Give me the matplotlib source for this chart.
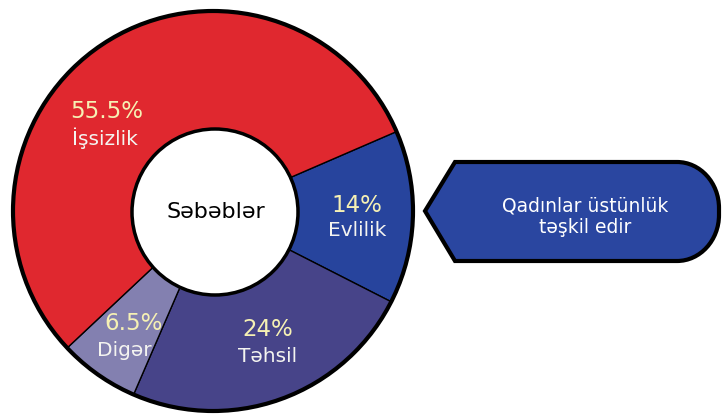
import matplotlib.pyplot as plt
from matplotlib.patches import Circle, PathPatch
from matplotlib.path import Path

# data, in clockwise order starting at the right
labels = ['Evlilik', 'Təhsil', 'Digər', 'İşsizlik']
values = [14, 24, 6.5, 55.5]
pct_text = ['14%', '24%', '6.5%', '55.5%']
colors = ['#27449d', '#474489', '#8380b0', '#e0282f']

W, H = 722, 416
fig = plt.figure(figsize=(W / 100, H / 100), dpi=100)
ax = fig.add_axes([0, 0, 1, 1])


def py(y):
    # pixel y (top-down) to axes y
    return H - y


cx, cy = 213, py(211)
R = 200

ax.pie(values, colors=colors, startangle=23.4, counterclock=False,
       radius=R, center=(cx, cy),
       wedgeprops=dict(width=125, edgecolor='black', linewidth=1))
ax.add_patch(Circle((cx, cy), R, fill=False, ec='black', lw=3, zorder=3))
ax.add_patch(Circle((215, py(212)), 83, fc='white', ec='black', lw=2.5, zorder=4))
ax.text(216, py(212), 'Səbəblər', ha='center', va='center', fontsize=16,
        color='black', zorder=5)

# slice labels: percent (pale yellow) over name (white)
label_pos = {'Evlilik': (357, 206, 357, 231),
             'Təhsil': (268, 329, 268, 356),
             'Digər': (134, 323, 124, 350),
             'İşsizlik': (107, 112, 105, 138)}
for lab, pct in zip(labels, pct_text):
    x1, y1, x2, y2 = label_pos[lab]
    ax.text(x1, py(y1), pct, ha='center', va='center', fontsize=16.5,
            color='#f6f1b4', zorder=5)
    ax.text(x2, py(y2), lab, ha='center', va='center', fontsize=14.5,
            color='#f4f4f0', zorder=5)

# callout shape
tip_x, tip_y = 425, py(211)
top, bot = py(162), py(261)
left, right = 455, 719
rx, ry = 42, 46
k = 0.55
verts = [(tip_x, tip_y), (left, top), (right - rx, top),
         (right - rx + k * rx, top), (right, top - ry + k * ry), (right, top - ry),
         (right, bot + ry),
         (right, bot + ry - k * ry), (right - rx + k * rx, bot), (right - rx, bot),
         (left, bot), (tip_x, tip_y), (tip_x, tip_y)]
codes = [Path.MOVETO, Path.LINETO, Path.LINETO,
         Path.CURVE4, Path.CURVE4, Path.CURVE4,
         Path.LINETO,
         Path.CURVE4, Path.CURVE4, Path.CURVE4,
         Path.LINETO, Path.LINETO, Path.CLOSEPOLY]
ax.add_patch(PathPatch(Path(verts, codes), fc='#2a46a0', ec='black', lw=3,
                       joinstyle='miter', zorder=3))
ax.text(585, py(217), 'Qadınlar üstünlük\ntəşkil edir', ha='center',
        va='center', fontsize=13.5, color='white', linespacing=1.15, zorder=5)

ax.set_xlim(0, W)
ax.set_ylim(0, H)
ax.set_aspect('equal')
ax.axis('off')
fig.savefig('out.png', dpi=100)
